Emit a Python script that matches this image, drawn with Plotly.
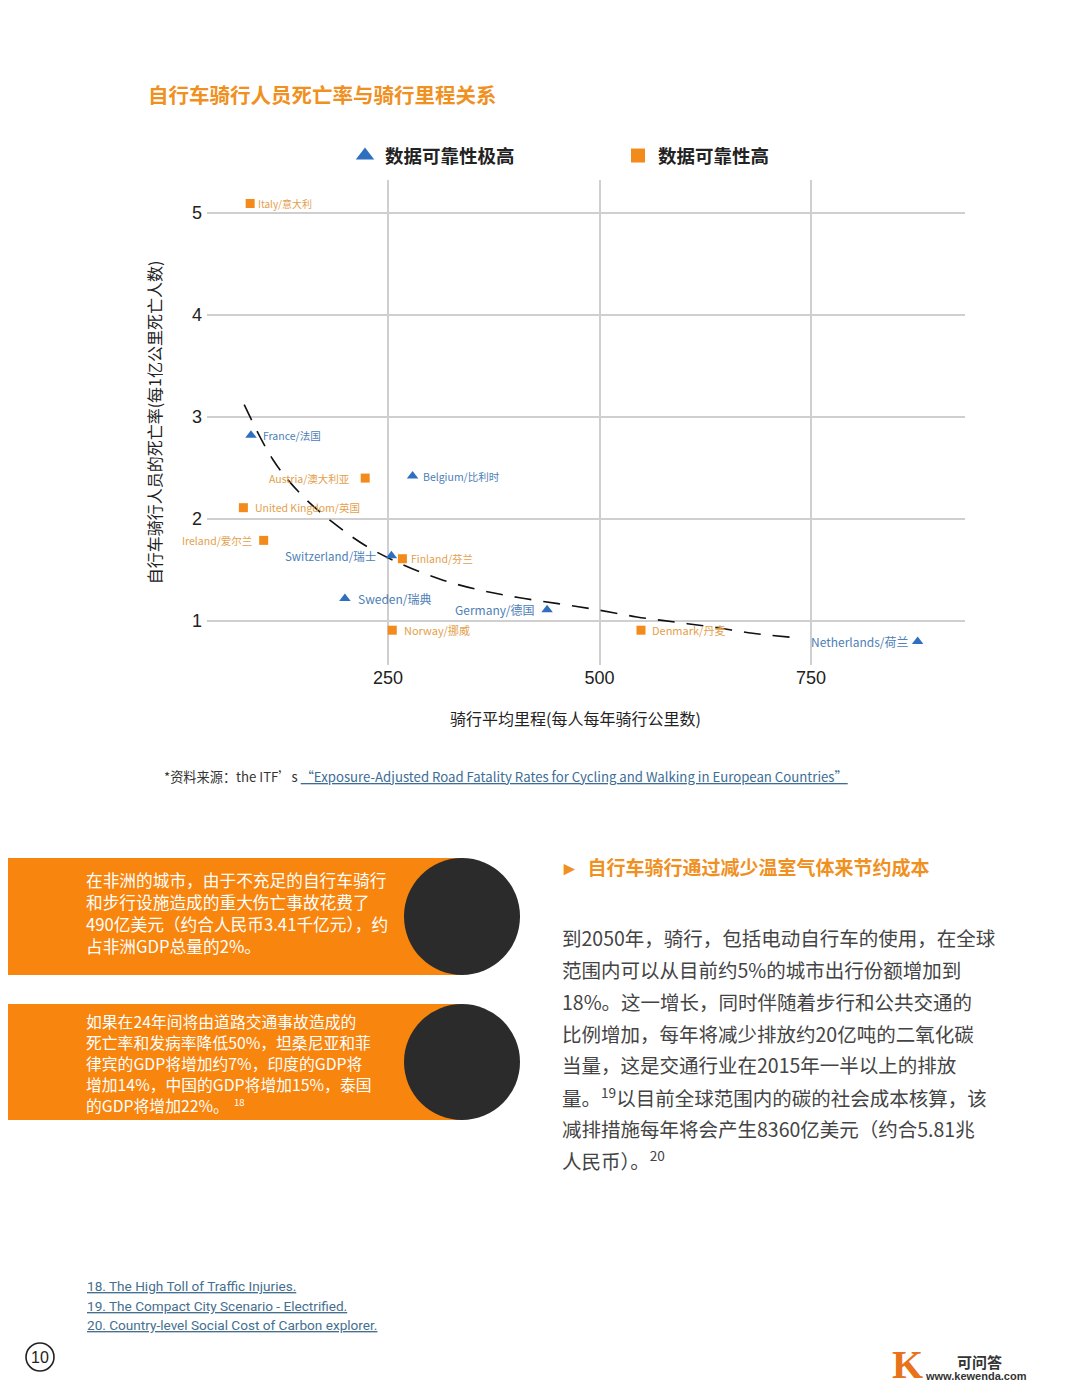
import plotly.graph_objects as go

# ---------------- data ----------------
vh_countries = ["France/法国", "Belgium/比利时", "Switzerland/瑞士", "Sweden/瑞典",
                "Germany/德国", "Netherlands/荷兰"]
vh_km = [88, 279, 254, 199, 438, 876]
vh_rate = [2.82, 2.42, 1.64, 1.22, 1.11, 0.80]

h_countries = ["Italy/意大利", "Austria/澳大利亚", "United Kingdom/英国", "Ireland/爱尔兰",
               "Finland/芬兰", "Norway/挪威", "Denmark/丹麦"]
h_km = [87, 223, 79, 103, 267, 255, 549]
h_rate = [5.09, 2.40, 2.11, 1.79, 1.61, 0.91, 0.91]

trend_km = [80, 114, 146, 184, 225, 268, 315, 360, 404, 451, 497, 544, 589, 634, 681, 727]
trend_rate = [3.12, 2.58, 2.25, 1.97, 1.73, 1.55, 1.40, 1.30, 1.23, 1.17, 1.11, 1.04,
              0.99, 0.94, 0.88, 0.84]

x_ticks = [250, 500, 750]
y_ticks = [1, 2, 3, 4, 5]

legend_names = ["数据可靠性极高", "数据可靠性高"]

# ---------------- label styling ----------------
vh_shift = [10, 8, -13, 11, -10, -7]
vh_size = [10.5, 10.5, 11.5, 12, 12, 12]
h_shift = [6, -13, 10, -10, 7, 10, 9]
h_size = [10, 10.5, 10.5, 10.5, 10.5, 11, 11]

BLUE = "#2f6fc0"
BLUE_TXT = "#4d80b6"
ORANGE = "#f28a1c"
ORANGE_TXT = "#e3a04c"
CJK = "Noto Sans CJK SC"

OFF = 8            # the page body margin
W, H = 1080 - OFF, 1398 - OFF


def px(x):
    return (x - OFF) / W


def py(y):
    return 1 - (y - OFF) / H


fig = go.Figure()

fig.add_trace(go.Scatter(
    x=trend_km, y=trend_rate, mode="lines", showlegend=False, hoverinfo="skip",
    line=dict(color="#111111", width=1.6, dash="17px,12px", shape="spline")))

fig.add_trace(go.Scatter(
    x=vh_km, y=vh_rate, mode="markers", showlegend=False, text=vh_countries,
    marker=dict(symbol="triangle-up", size=10, color=BLUE)))
fig.add_trace(go.Scatter(
    x=h_km, y=h_rate, mode="markers", showlegend=False, text=h_countries,
    marker=dict(symbol="square", size=9, color=ORANGE)))

# legend entries
fig.add_trace(go.Scatter(
    x=[None], y=[None], mode="markers", name="<b>%s</b>" % legend_names[0],
    marker=dict(symbol="triangle-up", size=16, color=BLUE)))
fig.add_trace(go.Scatter(
    x=[None], y=[None], mode="markers", name="<b>%s</b>" % legend_names[1],
    marker=dict(symbol="square", size=14, color=ORANGE)))

annotations = []
for name, xv, yv, sh, sz in zip(vh_countries, vh_km, vh_rate, vh_shift, vh_size):
    annotations.append(dict(x=xv, y=yv, xref="x", yref="y", text=name, showarrow=False,
                            xanchor="left" if sh > 0 else "right", xshift=sh,
                            font=dict(family=CJK, size=sz, color=BLUE_TXT)))
for name, xv, yv, sh, sz in zip(h_countries, h_km, h_rate, h_shift, h_size):
    annotations.append(dict(x=xv, y=yv, xref="x", yref="y", text=name, showarrow=False,
                            xanchor="left" if sh > 0 else "right", xshift=sh,
                            font=dict(family=CJK, size=sz, color=ORANGE_TXT)))


def note(x, y, text, size, color, xanchor="left", yanchor="middle", family=CJK, **kw):
    annotations.append(dict(x=px(x), y=py(y), xref="paper", yref="paper", text=text,
                            showarrow=False, xanchor=xanchor, yanchor=yanchor,
                            align="left", font=dict(family=family, size=size, color=color),
                            **kw))


# chart title
note(146, 94, "<b>自行车骑行人员死亡率与骑行里程关系</b>", 20.5, "#f0901f")

# x axis title
note(575, 718, "骑行平均里程(每人每年骑行公里数)", 16, "#222222", xanchor="center")

# source line
note(162, 776,
     "*资料来源：the ITF’s <span style='color:#3d6d96;text-decoration:underline'>"
     "“Exposure-Adjusted Road Fatality Rates for Cycling and Walking in European Countries”</span>",
     13.2, "#333333")

# orange panels text
panel1 = ["在非洲的城市，由于不充足的自行车骑行",
          "和步行设施造成的重大伤亡事故花费了",
          "490亿美元（约合人民币3.41千亿元），约",
          "占非洲GDP总量的2%。"]
for i, line in enumerate(panel1):
    note(85, 880 + i * 22, line, 16.7, "#ffffff", borderpad=0)
panel2 = ["如果在24年间将由道路交通事故造成的",
          "死亡率和发病率降低50%，坦桑尼亚和菲",
          "律宾的GDP将增加约7%，印度的GDP将",
          "增加14%，中国的GDP将增加15%，泰国",
          "的GDP将增加22%。"]
for i, line in enumerate(panel2):
    note(85, 1022 + i * 20.8, line, 15.8, "#ffffff", borderpad=0)
note(233, 1102, "18", 9.5, "#ffffff", borderpad=0)

# right column
note(558, 866, "<b>►  自行车骑行通过减少温室气体来节约成本</b>", 19, "#f0901f")
para = [
    "到2050年，骑行，包括电动自行车的使用，在全球",
    "范围内可以从目前约5%的城市出行份额增加到",
    "18%。这一增长，同时伴随着步行和公共交通的",
    "比例增加，每年将减少排放约20亿吨的二氧化碳",
    "当量，这是交通行业在2015年一半以上的排放",
    "量。<sup>19</sup>以目前全球范围内的碳的社会成本核算，该",
    "减排措施每年将会产生8360亿美元（约合5.81兆",
    "人民币）。<sup>20</sup>",
]
for i, line in enumerate(para):
    note(560, 938 + i * 31.7, line, 19.5, "#444444")

# footnotes
foot = ["18. The High Toll of Traffic Injuries.",
        "19. The Compact City Scenario - Electrified.",
        "20. Country-level Social Cost of Carbon explorer."]
for i, f in enumerate(foot):
    note(85, 1286 + i * 19.5, "<span style='text-decoration:underline'>%s</span>" % f,
         13.6, "#456f8f", family="Liberation Sans Narrow, Roboto")

# page number
note(40, 1357, "10", 16, "#222222", xanchor="center", family="Liberation Sans")

# watermark
note(907, 1364, "<b>K</b>", 40, "#e8731a", xanchor="center", family="Liberation Serif")
note(979, 1361, "<b>可问答</b>", 15, "#333333", xanchor="center")
note(976, 1376, "<b>www.kewenda.com</b>", 11, "#333333", xanchor="center",
     family="Liberation Sans")

shapes = []


def rect(x0, y0, x1, y1, color, kind="rect", line=None):
    shapes.append(dict(type=kind, xref="paper", yref="paper", x0=px(x0), x1=px(x1),
                       y0=py(y1), y1=py(y0), fillcolor=color, layer="below",
                       line=line or dict(width=0)))


rect(0, 858, 462, 975, "#f7850e")
rect(0, 1004, 462, 1120, "#f7850e")
rect(404, 858, 520, 975, "#2b2b2b", kind="circle")
rect(404, 1004, 520, 1120, "#2b2b2b", kind="circle")
rect(26, 1343, 54, 1371, "rgba(0,0,0,0)", kind="circle", line=dict(color="#222222", width=1.6))
rect(1074, 100, 1076, 222, "#efe7de")
rect(1074, 244, 1076, 292, "#efe7de")

fig.update_layout(
    width=W, height=H,
    margin=dict(l=0, r=0, t=0, b=0),
    paper_bgcolor="white", plot_bgcolor="white",
    font=dict(family=CJK, color="#222222"),
    showlegend=True,
    legend=dict(orientation="h", x=px(345), y=py(156), xanchor="left", yanchor="middle",
                entrywidth=228, entrywidthmode="pixels",
                font=dict(family=CJK, size=18.5, color="#222222"),
                bgcolor="rgba(0,0,0,0)"),
    xaxis=dict(domain=[px(207), px(965)], range=[36, 932], tickvals=x_ticks,
               showgrid=True, gridcolor="#cfcfcf", gridwidth=2, zeroline=False,
               showline=False, ticks="",
               tickfont=dict(family="Liberation Sans", size=18, color="#222222")),
    yaxis=dict(domain=[py(665), py(180)], range=[0.569, 5.32], tickvals=y_ticks,
               showgrid=True, gridcolor="#cfcfcf", gridwidth=2, zeroline=False,
               showline=False, ticks="", ticklabelstandoff=4,
               tickfont=dict(family="Liberation Sans", size=18, color="#222222"),
               title=dict(text="自行车骑行人员的死亡率(每1亿公里死亡人数)", standoff=26,
                          font=dict(family=CJK, size=16, color="#222222"))),
    annotations=annotations,
    shapes=shapes,
)

fig.write_html("out.html")
